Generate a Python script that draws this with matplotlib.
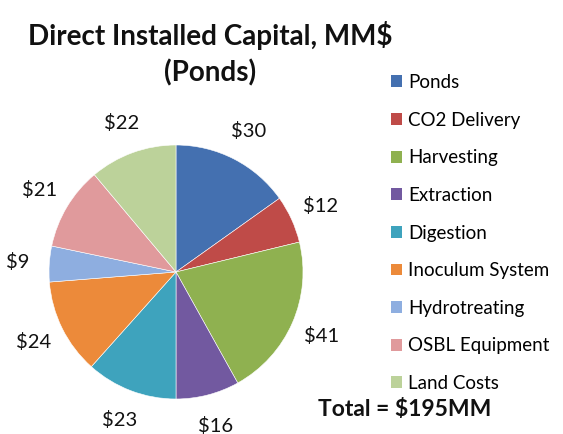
import matplotlib.pyplot as plt
from matplotlib.patches import Patch

categories = ['Ponds', 'CO2 Delivery', 'Harvesting', 'Extraction', 'Digestion',
              'Inoculum System', 'Hydrotreating', 'OSBL Equipment', 'Land Costs']
costs = [30, 12, 41, 16, 23, 24, 9, 21, 22]
colors = ['#4470b0', '#bf4b48', '#8fb150', '#7259a0', '#3ea3bd',
          '#ec8a3a', '#8eaee0', '#e09a9c', '#bcd29a']

plt.rcParams['font.family'] = ['Lato', 'DejaVu Sans']

fig = plt.figure(figsize=(5.63, 4.34), dpi=100)
# axes spans the whole figure, data units = pixels
ax = fig.add_axes([0, 0, 1, 1])

wedges, texts = ax.pie(costs, colors=colors, startangle=90, counterclock=False,
                       center=(176, 162), radius=127,
                       labels=['$%d' % c for c in costs], labeldistance=1.25,
                       wedgeprops=dict(edgecolor='white', linewidth=0.4),
                       frame=False)
for t in texts:
    t.set_ha('center')
    t.set_va('center')
    t.set_fontsize(14.5)
    t.set_color('#111111')

ax.set_xlim(0, 563)
ax.set_ylim(0, 434)
ax.set_aspect('equal')
ax.axis('off')

fig.text(210 / 563, 1 - 35 / 434, 'Direct Installed Capital, MM$', ha='center', va='center',
         fontsize=20, fontweight='bold', color='#111111')
fig.text(210 / 563, 1 - 73 / 434, '(Ponds)', ha='center', va='center',
         fontsize=20, fontweight='bold', color='#111111')

handles = [Patch(facecolor=c, edgecolor='none') for c in colors]
fig.legend(handles, categories, loc='upper left', bbox_to_anchor=(391 / 563, 1 - 74 / 434),
           frameon=False, fontsize=13.5, handlelength=0.59, handleheight=0.59,
           handletextpad=0.32, labelspacing=1.1, borderaxespad=0, borderpad=0)

fig.text(405 / 563, 1 - 410 / 434, 'Total = $195MM', ha='center', va='center',
         fontsize=16.5, fontweight='bold', color='#111111')

plt.savefig('out.png', dpi=100)
